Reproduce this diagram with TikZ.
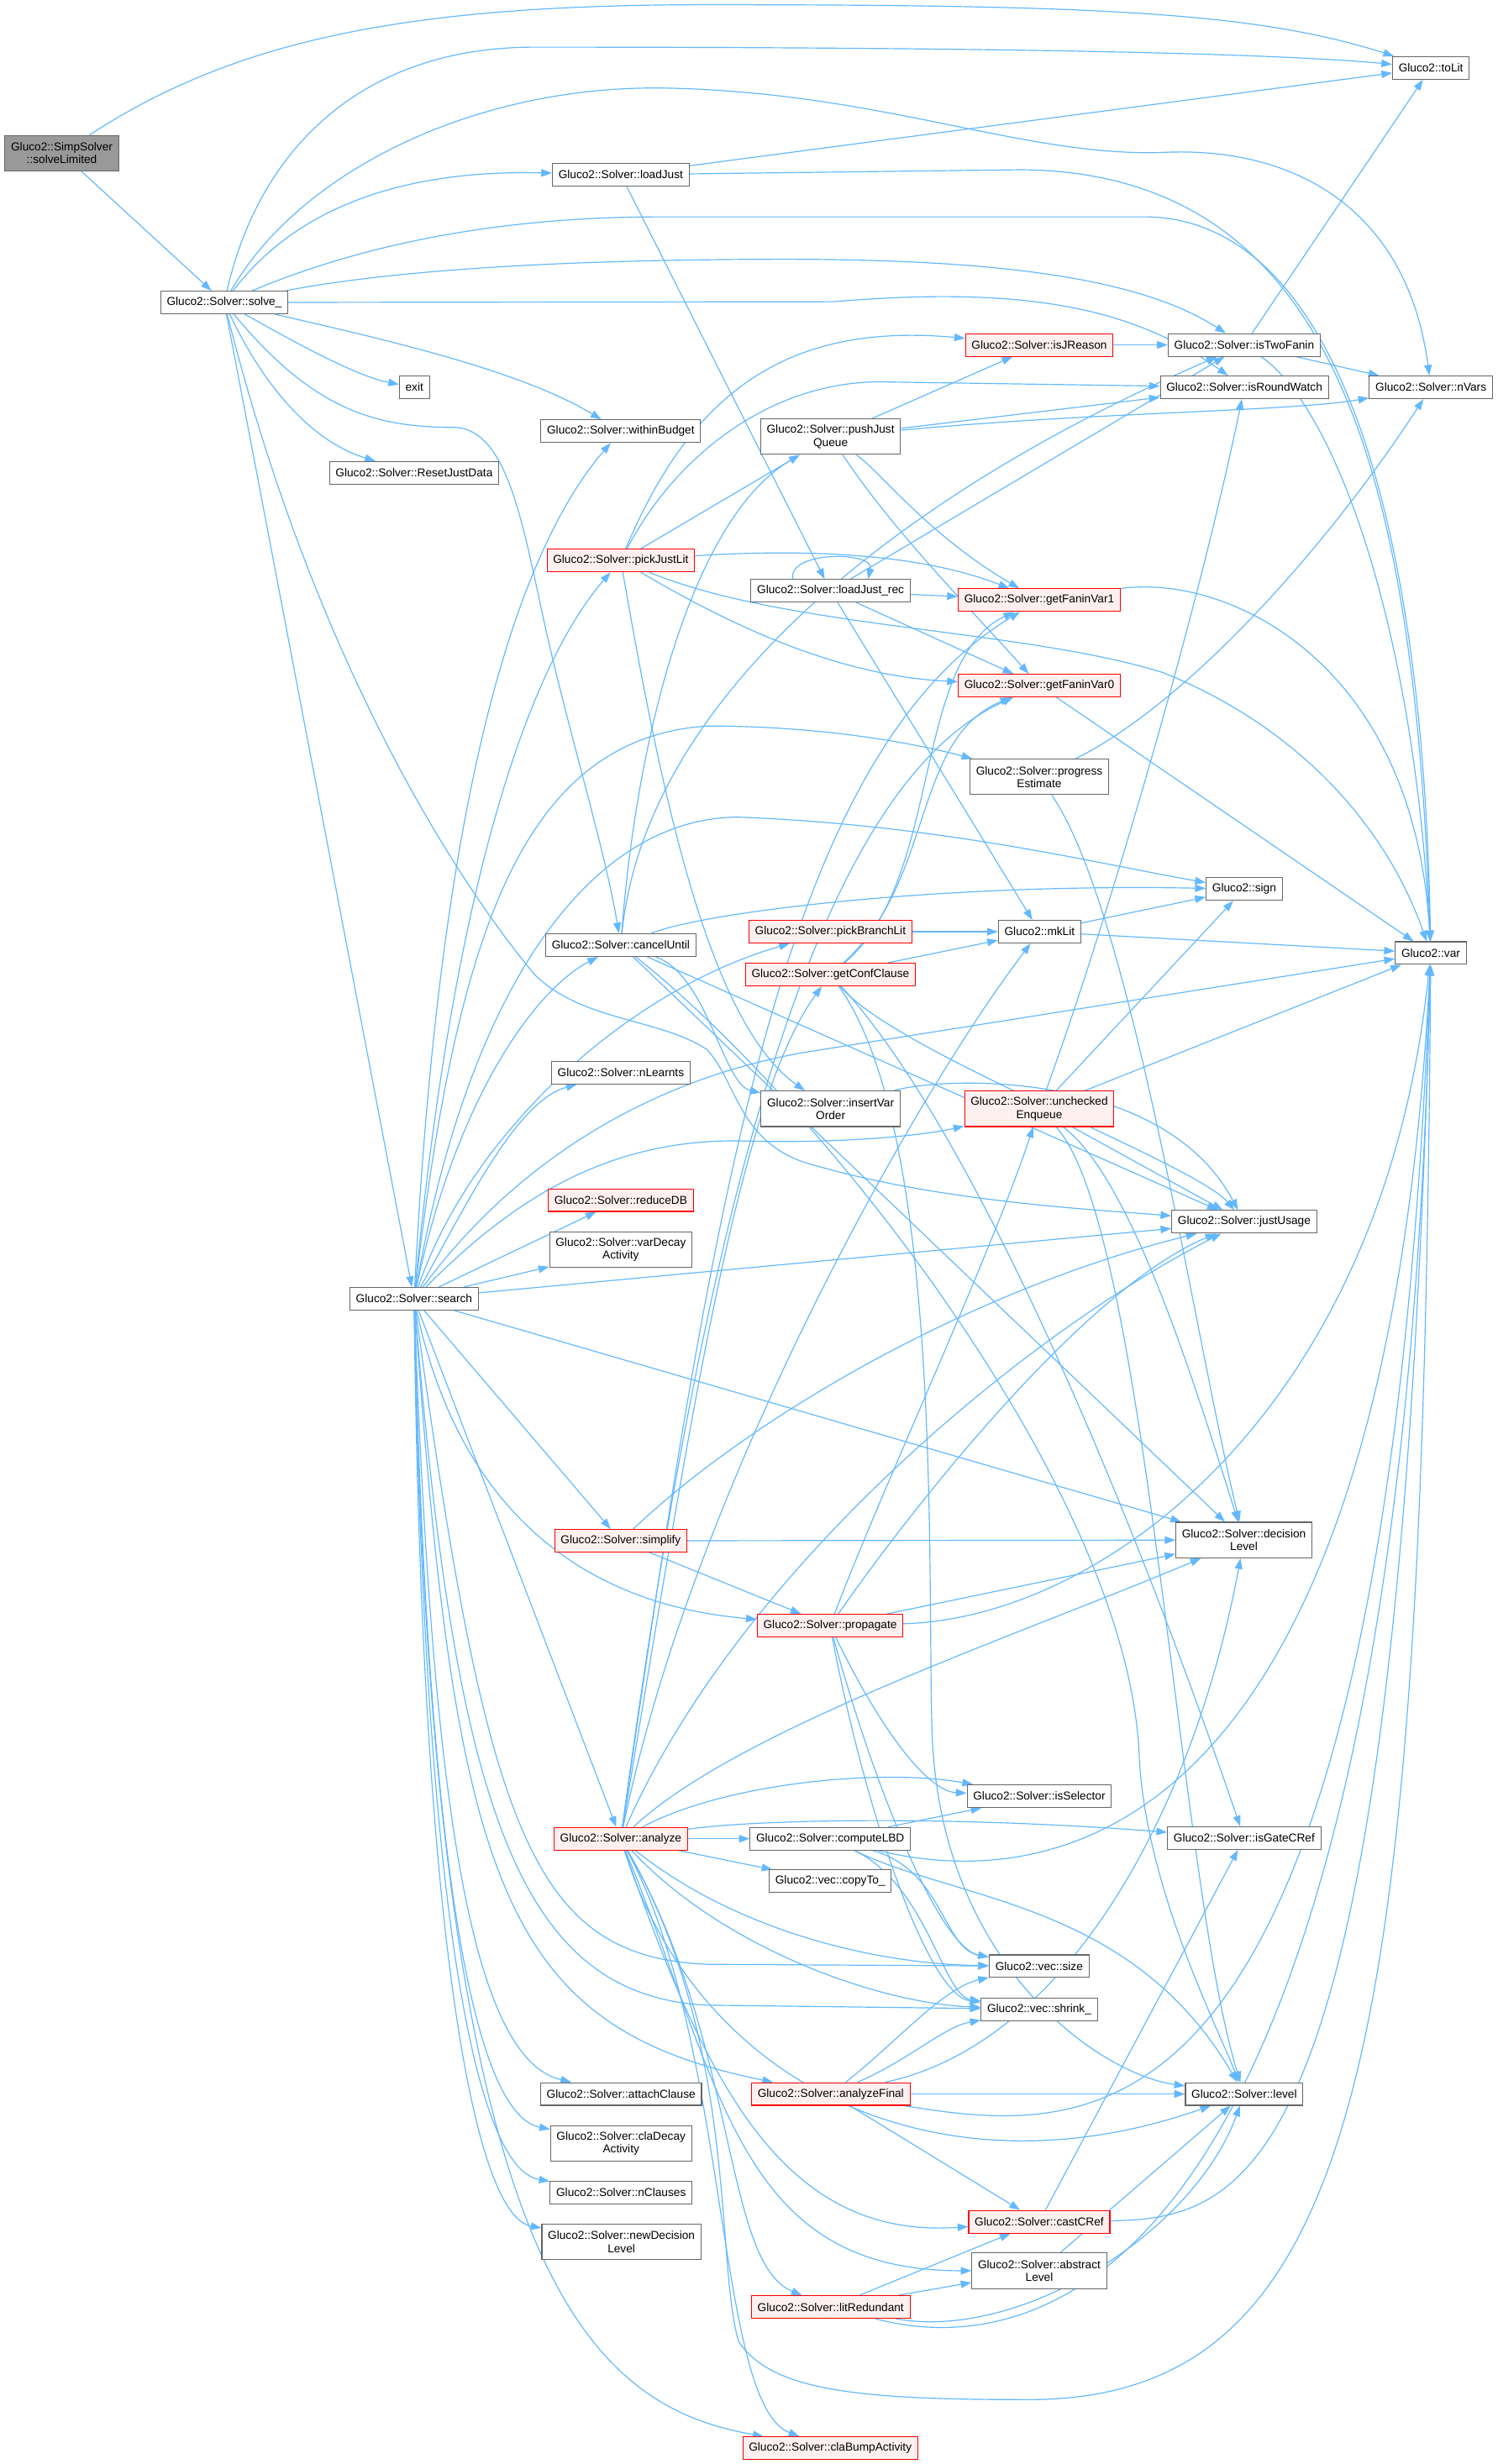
\documentclass[tikz,border=0pt]{standalone}
\usepackage{fontspec}
\setmainfont{Liberation Sans}
\usetikzlibrary{arrows.meta,backgrounds}
\definecolor{edgeblue}{HTML}{63B8FF}
\definecolor{boxgray}{HTML}{666666}
\definecolor{rootgray}{HTML}{999999}
\definecolor{redfill}{HTML}{FFF0F0}
\begin{document}
\begin{tikzpicture}[x=0.05cm,y=-0.05cm,font=\fontsize{10.4}{11.6}\selectfont,
  fn/.style={draw=boxgray,fill=white,line width=0.8pt,inner xsep=5.5pt,inner ysep=2pt,minimum height=0.72cm,align=center},
  fntwo/.style={fn,minimum height=1.13cm},
  fnred/.style={fn,draw=red,fill=redfill},
  fnredtwo/.style={fnred,minimum height=1.13cm},
  fnroot/.style={fntwo,fill=rootgray},
  call/.style={-{Triangle[length=3.4mm,width=2.4mm]},draw=edgeblue,fill=none,line width=0.9pt}]
\useasboundingbox (0,0) rectangle (953,1568);
% column 0 and 1
\node[fnroot] (sl) at (39.3,97.5) {Gluco2::SimpSolver\\::solveLimited};
\node[fn] (solve) at (142.7,192.5) {Gluco2::Solver::solve\_};
% column 2
\node[fn] (exitf) at (263.7,246.5) {exit};
\node[fn] (resetjd) at (263.5,300.9) {Gluco2::Solver::ResetJustData};
\node[fn] (search) at (263.5,826.5) {Gluco2::Solver::search};
% column 3
\node[fn] (loadjust) at (395,111.2) {Gluco2::Solver::loadJust};
\node[fn] (budget) at (395,274.4) {Gluco2::Solver::withinBudget};
\node[fnred] (pickjl) at (395,356.7) {Gluco2::Solver::pickJustLit};
\node[fn] (cancel) at (395,601.4) {Gluco2::Solver::cancelUntil};
\node[fn] (nlearnts) at (395,682.6) {Gluco2::Solver::nLearnts};
\node[fnred] (reducedb) at (395,763.7) {Gluco2::Solver::reduceDB};
\node[fntwo] (vardecay) at (395,795.3) {Gluco2::Solver::varDecay\\Activity};
\node[fnred] (simplify) at (395,980.5) {Gluco2::Solver::simplify};
\node[fnred] (analyze) at (395,1170.1) {Gluco2::Solver::analyze};
\node[fn] (attach) at (395.2,1332.5) {Gluco2::Solver::attachClause};
\node[fntwo] (cladecay) at (395.2,1363.9) {Gluco2::Solver::claDecay\\Activity};
\node[fn] (nclauses) at (395.2,1395.3) {Gluco2::Solver::nClauses};
\node[fntwo] (newdeclevel) at (395.4,1426.6) {Gluco2::Solver::newDecision\\Level};
% column 4
\node[fntwo] (pushjq) at (528.5,277.9) {Gluco2::Solver::pushJust\\Queue};
\node[fn] (loadjrec) at (528.5,376) {Gluco2::Solver::loadJust\_rec};
\node[fnred] (pickbl) at (528.4,592.9) {Gluco2::Solver::pickBranchLit};
\node[fnred] (getconf) at (528.4,620.2) {Gluco2::Solver::getConfClause};
\node[fntwo] (insvo) at (528.5,705.6) {Gluco2::Solver::insertVar\\Order};
\node[fnred] (propagate) at (528.2,1034.5) {Gluco2::Solver::propagate};
\node[fn] (computelbd) at (528.3,1170.1) {Gluco2::Solver::computeLBD};
\node[fn] (copyto) at (528.3,1197.2) {Gluco2::vec::copyTo\_};
\node[fnred] (anfinal) at (528.6,1332.5) {Gluco2::Solver::analyzeFinal};
\node[fnred] (litred) at (528.6,1468.1) {Gluco2::Solver::litRedundant};
\node[fnred] (clabump) at (528.3,1557.9) {Gluco2::Solver::claBumpActivity};
% column 5
\node[fnred] (isjreason) at (661.3,219.5) {Gluco2::Solver::isJReason};
\node[fnred] (fanin1) at (661.3,381.9) {Gluco2::Solver::getFaninVar1};
\node[fnred] (fanin0) at (661.3,436.3) {Gluco2::Solver::getFaninVar0};
\node[fntwo] (progest) at (661.3,494.4) {Gluco2::Solver::progress\\Estimate};
\node[fn] (mklit) at (661.5,592.9) {Gluco2::mkLit};
\node[fnredtwo] (uncheq) at (661.3,705.6) {Gluco2::Solver::unchecked\\Enqueue};
\node[fn] (isselector) at (661.3,1143) {Gluco2::Solver::isSelector};
\node[fn] (vsize) at (661.2,1251.2) {Gluco2::vec::size};
\node[fn] (vshrink) at (661.3,1278.6) {Gluco2::vec::shrink\_};
\node[fnred] (castcref) at (661.3,1413.8) {Gluco2::Solver::castCRef};
\node[fntwo] (abslevel) at (661.3,1445) {Gluco2::Solver::abstract\\Level};
% column 6
\node[fn] (istwofanin) at (791.7,219.5) {Gluco2::Solver::isTwoFanin};
\node[fn] (isroundwatch) at (791.8,246.5) {Gluco2::Solver::isRoundWatch};
\node[fn] (sign) at (791.7,565.8) {Gluco2::sign};
\node[fn] (justusage) at (791.7,777.5) {Gluco2::Solver::justUsage};
\node[fntwo] (declevel) at (791.5,980) {Gluco2::Solver::decision\\Level};
\node[fn] (isgatecref) at (791.7,1169.7) {Gluco2::Solver::isGateCRef};
\node[fn] (level) at (791.7,1332.5) {Gluco2::Solver::level};
% column 7
\node[fn] (tolit) at (910.5,43.2) {Gluco2::toLit};
\node[fn] (nvars) at (910.5,246.5) {Gluco2::Solver::nVars};
\node[fn] (var) at (910.4,606.5) {Gluco2::var};
\begin{pgfonlayer}{background}
% calls from solveLimited and solve_
\draw[call] (sl) -- (solve);
\draw[call] (sl) .. controls (150,25) and (260,3) .. (450,3) .. controls (700,3) and (800,8) .. (tolit);
\draw[call] (solve) .. controls (165,95) and (230,30) .. (340,30) .. controls (600,30) and (800,33) .. (tolit);
\draw[call] (solve) .. controls (190,110) and (300,55) .. (420,56) .. controls (560,58) and (650,100) .. (740,97) .. controls (820,93) and (895,130) .. (nvars);
\draw[call] (solve) .. controls (190,130) and (260,108) .. (loadjust);
\draw[call] (solve) .. controls (215,162) and (300,138) .. (420,138) -- (730,138) .. controls (840,140) and (905,300) .. (var);
\draw[call] (solve) .. controls (260,170) and (380,165) .. (500,165) .. controls (650,165) and (730,180) .. (istwofanin);
\draw[call] (solve) -- (530,192) .. controls (650,182) and (720,195) .. (isroundwatch);
\draw[call] (solve) .. controls (200,225) and (230,240) .. (exitf);
\draw[call] (solve) .. controls (240,215) and (330,235) .. (budget);
\draw[call] (solve) .. controls (165,240) and (195,280) .. (resetjd);
\draw[call] (solve) .. controls (200,262) and (240,272) .. (290,272) .. controls (322,274) and (332,330) .. (345,390) .. controls (360,460) and (385,540) .. (cancel);
\draw[call] (solve) -- (search);
\draw[call] (solve) .. controls (200,420) and (290,560) .. (340,620) .. controls (370,650) and (420,648) .. (450,668) .. controls (470,690) and (470,730) .. (520,742) .. controls (600,765) and (700,770) .. (justusage);
% loadJust and the justification helpers
\draw[call] (loadjust) -- (tolit);
\draw[call] (loadjust) -- (650,108) .. controls (850,110) and (900,300) .. (var);
\draw[call] (loadjust) -- (loadjrec);
\draw[call] (isjreason) -- (istwofanin);
\draw[call] (istwofanin) -- (tolit);
\draw[call] (istwofanin) -- (nvars);
\draw[call] (istwofanin) .. controls (850,260) and (900,400) .. (var);
\draw[call] (pushjq) -- (isjreason);
\draw[call] (pushjq) -- (isroundwatch);
\draw[call] (pushjq) .. controls (700,262) and (820,262) .. (nvars);
\draw[call] (pushjq) .. controls (560,300) and (590,340) .. (fanin1);
\draw[call] (pushjq) .. controls (570,340) and (620,390) .. (fanin0);
\draw[call] (pickjl) .. controls (440,250) and (500,205) .. (isjreason);
\draw[call] (pickjl) .. controls (430,290) and (490,243) .. (560,243) -- (isroundwatch);
\draw[call] (pickjl) -- (pushjq);
\draw[call] (pickjl) .. controls (500,350) and (580,350) .. (fanin1);
\draw[call] (pickjl) .. controls (460,395) and (530,430) .. (fanin0);
\draw[call] (pickjl) .. controls (500,400) and (650,400) .. (740,428) .. controls (820,460) and (880,520) .. (var);
\draw[call] (pickjl) .. controls (420,500) and (450,650) .. (insvo);
\draw[call] ([xshift=-34pt]loadjrec.north) .. controls +(-4,-18) and +(4,-18) .. ([xshift=34pt]loadjrec.north);
\draw[call] (loadjrec) -- (fanin1);
\draw[call] (loadjrec) -- (fanin0);
\draw[call] (loadjrec) -- (mklit);
\draw[call] (loadjrec) -- (istwofanin);
\draw[call] (fanin1) .. controls (780,365) and (900,420) .. (var);
\draw[call] (fanin0) -- (var);
\draw[call] (progest) .. controls (760,445) and (850,340) .. (nvars);
\draw[call] (progest) .. controls (720,580) and (760,850) .. (declevel);
\draw[call] (mklit) -- (sign);
\draw[call] (mklit) -- (var);
\draw[call] (pickbl) -- (mklit);
\draw[call] (getconf) -- (mklit);
\draw[call] (getconf) .. controls (600,560) and (580,420) .. (fanin1);
\draw[call] (getconf) .. controls (595,560) and (580,470) .. (fanin0);
\draw[call] (getconf) .. controls (570,670) and (760,740) .. (justusage);
\draw[call] (getconf) .. controls (620,720) and (720,960) .. (isgatecref);
\draw[call] (getconf) .. controls (600,720) and (590,1000) .. (593,1100) .. controls (597,1250) and (700,1320) .. (level);
% cancelUntil
\draw[call] (cancel) .. controls (405,470) and (440,330) .. (pushjq);
\draw[call] (cancel) .. controls (410,450) and (560,320) .. (istwofanin);
\draw[call] (cancel) .. controls (450,580) and (600,562) .. (sign);
\draw[call] (cancel) .. controls (450,620) and (460,690) .. (insvo);
\draw[call] (cancel) -- (justusage);
\draw[call] (cancel) -- (declevel);
\draw[call] (cancel) .. controls (520,700) and (720,950) .. (725,1120) .. controls (730,1200) and (770,1280) .. (level);
% search
\draw[call] (search) .. controls (280,500) and (330,350) .. (budget);
\draw[call] (search) .. controls (290,550) and (340,420) .. (pickjl);
\draw[call] (search) .. controls (290,600) and (330,470) .. (450,462) .. controls (530,462) and (590,475) .. (progest);
\draw[call] (search) .. controls (300,620) and (380,520) .. (470,520) .. controls (600,525) and (700,550) .. (sign);
\draw[call] (search) .. controls (290,700) and (340,630) .. (cancel);
\draw[call] (search) .. controls (300,720) and (400,630) .. (pickbl);
\draw[call] (search) .. controls (320,750) and (400,690) .. (510,670) -- (var);
\draw[call] (search) .. controls (320,770) and (380,725) .. (470,726) .. controls (540,728) and (590,722) .. (uncheq);
\draw[call] (search) .. controls (300,760) and (330,700) .. (nlearnts);
\draw[call] (search) -- (reducedb);
\draw[call] (search) -- (vardecay);
\draw[call] (search) -- (justusage);
\draw[call] (search) -- (declevel);
\draw[call] (search) -- (simplify);
\draw[call] (search) .. controls (290,950) and (360,1020) .. (propagate);
\draw[call] (search) -- (analyze);
\draw[call] (search) .. controls (310,1170) and (340,1245) .. (450,1250) -- (vsize);
\draw[call] (search) .. controls (290,1150) and (330,1270) .. (450,1276) -- (vshrink);
\draw[call] (search) .. controls (290,1200) and (320,1290) .. (anfinal);
\draw[call] (search) .. controls (275,1150) and (300,1310) .. (attach);
\draw[call] (search) .. controls (272,1180) and (300,1345) .. (cladecay);
\draw[call] (search) .. controls (270,1200) and (300,1380) .. (nclauses);
\draw[call] (search) .. controls (268,1220) and (300,1410) .. (newdeclevel);
\draw[call] (search) .. controls (275,1440) and (370,1530) .. (clabump);
% simplify, propagate, uncheckedEnqueue
\draw[call] (simplify) -- (propagate);
\draw[call] (simplify) -- (declevel);
\draw[call] (simplify) .. controls (480,900) and (620,820) .. (justusage);
\draw[call] (propagate) .. controls (560,950) and (630,800) .. (uncheq);
\draw[call] (propagate) .. controls (580,960) and (690,820) .. (justusage);
\draw[call] (propagate) -- (declevel);
\draw[call] (propagate) .. controls (700,1030) and (880,900) .. (var);
\draw[call] (propagate) .. controls (560,1100) and (590,1140) .. (isselector);
\draw[call] (propagate) .. controls (560,1150) and (600,1240) .. (vsize);
\draw[call] (propagate) .. controls (550,1150) and (590,1270) .. (vshrink);
\draw[call] (uncheq) .. controls (700,600) and (760,400) .. (isroundwatch);
\draw[call] (uncheq) -- (sign);
\draw[call] (uncheq) -- (var);
\draw[call] (uncheq) -- (justusage);
\draw[call] (uncheq) .. controls (720,750) and (760,880) .. (declevel);
\draw[call] (uncheq) .. controls (730,780) and (750,1200) .. (level);
\draw[call] (insvo) .. controls (600,685) and (740,680) .. (justusage);
% analyze
\draw[call] (analyze) .. controls (455,750) and (500,480) .. (fanin1);
\draw[call] (analyze) .. controls (450,760) and (520,500) .. (fanin0);
\draw[call] (analyze) .. controls (440,900) and (470,700) .. (getconf);
\draw[call] (analyze) .. controls (440,950) and (580,700) .. (mklit);
\draw[call] (analyze) .. controls (470,1000) and (650,850) .. (justusage);
\draw[call] (analyze) .. controls (470,1100) and (650,1040) .. (declevel);
\draw[call] (analyze) .. controls (460,1135) and (560,1125) .. (isselector);
\draw[call] (analyze) -- (computelbd);
\draw[call] (analyze) .. controls (480,1158) and (600,1155) .. (isgatecref);
\draw[call] (analyze) -- (copyto);
\draw[call] (analyze) .. controls (470,1230) and (560,1250) .. (vsize);
\draw[call] (analyze) .. controls (460,1240) and (560,1275) .. (vshrink);
\draw[call] (analyze) .. controls (445,1330) and (600,1400) .. (level);
\draw[call] (analyze) .. controls (470,1300) and (455,1440) .. (470,1490) .. controls (490,1520) and (540,1527) .. (650,1527) .. controls (870,1530) and (905,1300) .. (var);
\draw[call] (analyze) .. controls (450,1330) and (500,1425) .. (castcref);
\draw[call] (analyze) .. controls (460,1330) and (470,1445) .. (abslevel);
\draw[call] (analyze) .. controls (470,1300) and (460,1440) .. (litred);
\draw[call] (analyze) .. controls (465,1300) and (455,1530) .. (clabump);
% helpers of analyze
\draw[call] (computelbd) -- (isselector);
\draw[call] (computelbd) .. controls (600,1190) and (600,1240) .. (vsize);
\draw[call] (computelbd) .. controls (590,1200) and (600,1270) .. (vshrink);
\draw[call] (computelbd) .. controls (610,1210) and (720,1210) .. (level);
\draw[call] (computelbd) .. controls (650,1200) and (880,1200) .. (var);
\draw[call] (anfinal) .. controls (570,1300) and (600,1265) .. (vsize);
\draw[call] (anfinal) .. controls (580,1310) and (600,1290) .. (vshrink);
\draw[call] (anfinal) -- (castcref);
\draw[call] (anfinal) -- (level);
\draw[call] (anfinal) .. controls (680,1300) and (760,1150) .. (declevel);
\draw[call] (anfinal) .. controls (700,1360) and (880,1380) .. (var);
\draw[call] (castcref) -- (isgatecref);
\draw[call] (castcref) .. controls (800,1412) and (890,1380) .. (var);
\draw[call] (abslevel) -- (level);
\draw[call] (litred) -- (castcref);
\draw[call] (litred) -- (abslevel);
\draw[call] (litred) .. controls (650,1490) and (760,1420) .. (level);
\draw[call] (litred) .. controls (650,1500) and (890,1480) .. (var);
\end{pgfonlayer}
\end{tikzpicture}
\end{document}
